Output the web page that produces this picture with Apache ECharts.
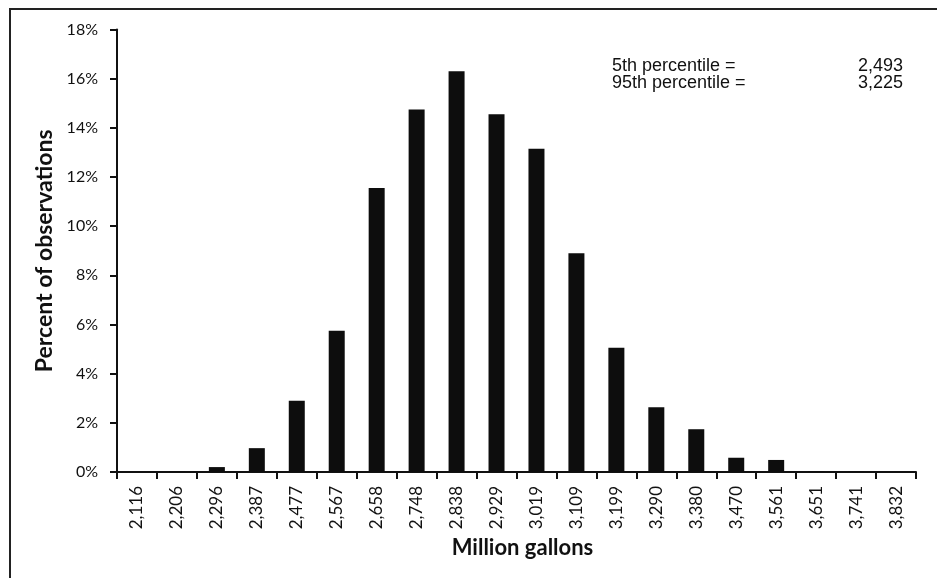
<!DOCTYPE html>
<html>
<head>
<meta charset="utf-8">
<script src="https://cdn.jsdelivr.net/npm/echarts@6/dist/echarts.min.js"></script>
<style>
html,body{margin:0;padding:0;background:#fff;}
#chart{width:937px;height:578px;}
</style>
</head>
<body>
<div id="chart"></div>
<script>
const categories = ["2,116","2,206","2,296","2,387","2,477","2,567","2,658","2,748","2,838","2,929","3,019","3,109","3,199","3,290","3,380","3,470","3,561","3,651","3,741","3,832"];
const percentObs = [0, 0.01, 0.2, 0.97, 2.9, 5.75, 11.55, 14.75, 16.3, 14.55, 13.15, 8.9, 5.05, 2.63, 1.74, 0.58, 0.49, 0.02, 0.01, 0];
const yTicks = {min: 0, max: 18, interval: 2};
const noteLabels = ["5th percentile =", "95th percentile ="];
const noteValues = ["2,493", "3,225"];

const chart = echarts.init(document.getElementById('chart'), null, {renderer: 'canvas'});
const axisFont = 'Lato, "Open Sans", sans-serif';
const noteFont = '18px "Liberation Sans", Arial, sans-serif';
chart.setOption({
  backgroundColor: '#ffffff',
  animation: false,
  grid: {left: 117, right: 21, top: 29.5, bottom: 106, containLabel: false},
  xAxis: {
    type: 'category',
    data: categories,
    name: 'Million gallons',
    nameLocation: 'middle',
    nameGap: 65,
    nameTextStyle: {fontFamily: axisFont, fontWeight: 'bold', fontSize: 22, color: '#111', verticalAlign: 'top', padding: [0,0,0,12]},
    axisLine: {show: true, lineStyle: {color: '#111', width: 2}},
    axisTick: {show: true, alignWithLabel: false, length: 7, lineStyle: {color: '#111', width: 2}},
    axisLabel: {rotate: 90, margin: 14, fontFamily: axisFont, fontSize: 17, color: '#111', interval: 0},
    splitLine: {show: false}
  },
  yAxis: {
    type: 'value',
    min: yTicks.min, max: yTicks.max, interval: yTicks.interval,
    name: 'Percent of observations',
    nameLocation: 'middle',
    nameRotate: 90,
    nameGap: 60,
    nameTextStyle: {fontFamily: axisFont, fontWeight: 'bold', fontSize: 23, color: '#111'},
    axisLine: {show: true, lineStyle: {color: '#111', width: 2}},
    axisTick: {show: true, length: 7, lineStyle: {color: '#111', width: 2}},
    axisLabel: {margin: 19, fontFamily: axisFont, fontSize: 16, color: '#111', formatter: '{value}%'},
    splitLine: {show: false}
  },
  series: [{
    type: 'bar',
    data: percentObs,
    barWidth: 16,
    itemStyle: {color: '#0d0d0d'}
  }],
  graphic: [
    {type: 'rect', shape: {x: 10, y: 9, width: 1000, height: 1000}, style: {fill: 'none', stroke: '#222', lineWidth: 2}, silent: true},
    {type: 'text', left: 612, top: 57, style: {text: noteLabels[0], font: noteFont, fill: '#111'}},
    {type: 'text', left: 612, top: 74, style: {text: noteLabels[1], font: noteFont, fill: '#111'}},
    {type: 'text', right: 34, top: 57, style: {text: noteValues[0], font: noteFont, fill: '#111', textAlign: 'right'}},
    {type: 'text', right: 34, top: 74, style: {text: noteValues[1], font: noteFont, fill: '#111', textAlign: 'right'}}
  ]
});
</script>
</body>
</html>
